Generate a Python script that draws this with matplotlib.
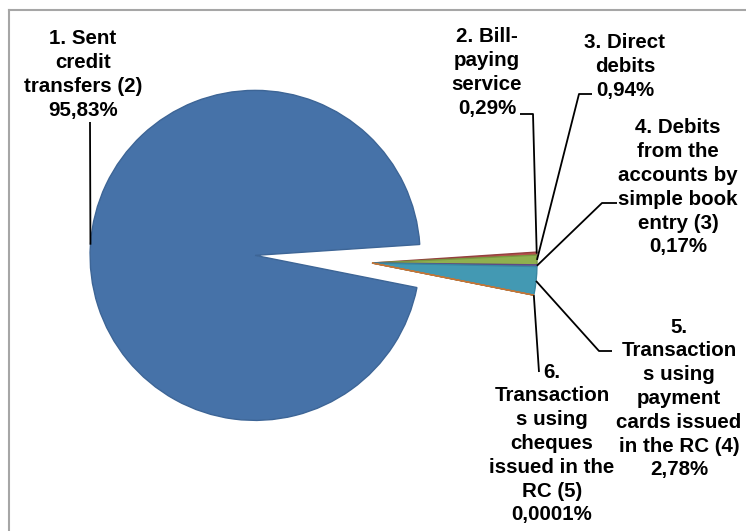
import numpy as np
import matplotlib.pyplot as plt

#------------------------------------------------------------------------------
# data
labels = ['1. Sent\ncredit\ntransfers (2)\n95,83%',
          '2. Bill-\npaying\nservice\n0,29%',
          '3. Direct\ndebits\n0,94%',
          '4. Debits\nfrom the\naccounts by\nsimple book\nentry (3)\n0,17%',
          '5.\nTransaction\ns using\npayment\ncards issued\nin the RC (4)\n2,78%',
          '6.\nTransaction\ns using\ncheques\nissued in the\nRC (5)\n0,0001%']
shares = [95.83, 0.29, 0.94, 0.17, 2.78, 0.0001]

colors = ['#4672a8', '#b9504d', '#8fb04f', '#7a62a0', '#4399b3', '#f09040']
edges  = ['#3d6596', '#93403d', '#7a9940', '#5e4a85', '#3886a0', '#c0763a']
explode = [0.71, 0, 0, 0, 0, 0]

#------------------------------------------------------------------------------
# figure: 1 data unit = 165 px, pie centre at pixel (372, 263)
W, H = 746, 531
R = 165.0
cx, cy = 372.0, 263.0

def px(x, y):
    return ((x - cx) / R, (cy - y) / R)

fig = plt.figure(figsize=(W / 100, H / 100), dpi=100)
ax = fig.add_axes([0, 0, 1, 1])

wedges, _ = ax.pie(shares, colors=colors, explode=explode, startangle=-11.25,
                   counterclock=False, radius=1.0,
                   wedgeprops=dict(linewidth=1.0))
for w, ec in zip(wedges, edges):
    w.set_edgecolor(ec)

ax.set_xlim(-cx / R, (W - cx) / R)
ax.set_ylim(-(H - cy) / R, cy / R)
ax.set_aspect('equal', adjustable='datalim')
ax.axis('off')

# chart frame (cropped on the right and bottom)
fig.add_artist(plt.Line2D([9 / W, 1], [1 - 10 / H, 1 - 10 / H],
                          color='#a6a6a6', lw=1.5))
fig.add_artist(plt.Line2D([9 / W, 9 / W], [0, 1 - 10 / H],
                          color='#a6a6a6', lw=1.5))

#------------------------------------------------------------------------------
# labels (centre in pixels) and leader line start points (pixels)
label_pos = [(83, 72), (487, 70), (625, 64), (678, 185), (679, 396), (552, 441)]
leaders = [[(90, 122)],
           [(520, 114), (533, 114)],
           [(592, 94), (579, 94)],
           [(617, 203), (602, 203)],
           [(612, 351), (599, 351)],
           [(539, 372)]]

for w, lab, (lx, ly), pts in zip(wedges, labels, label_pos, leaders):
    x, y = px(lx, ly)
    ax.text(x, y - 0.015, lab, ha='center', va='center', fontsize=14.8,
            fontweight='bold', family='Liberation Sans', linespacing=1.32,
            color='black')
    # mid point on the wedge arc
    ang = np.deg2rad((w.theta1 + w.theta2) / 2)
    ex = w.center[0] + w.r * np.cos(ang)
    ey = w.center[1] + w.r * np.sin(ang)
    xs = [px(a, b)[0] for a, b in pts] + [ex]
    ys = [px(a, b)[1] for a, b in pts] + [ey]
    ax.plot(xs, ys, color='black', lw=1.3, solid_capstyle='butt')

fig.savefig('out.png', dpi=100)
